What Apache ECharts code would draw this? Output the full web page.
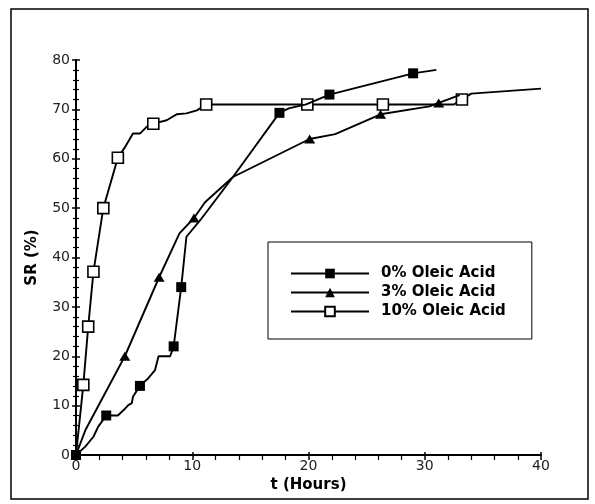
<!DOCTYPE html>
<html>
<head>
<meta charset="utf-8">
<script src="https://cdn.jsdelivr.net/npm/echarts@6/dist/echarts.min.js"></script>
<style>html,body{margin:0;padding:0;background:#fff}#c{width:595px;height:504px}</style>
</head>
<body>
<div id="c"></div>
<script>
// ---- data (t in hours, SR in %) ; mark = 1 where the figure shows a marker ----
const seriesNames = ['0% Oleic Acid', '3% Oleic Acid', '10% Oleic Acid'];

const t0   = [0, 0.8, 1.5, 1.9, 2.6, 3.6, 4.1, 4.5, 4.8, 4.9, 5.5, 6.2, 6.8, 7.1, 8.1, 8.4, 9.05, 9.5, 10.7, 13.5, 17.5, 18.3, 19.8, 21.8, 29, 31];
const sr0  = [0, 1.7, 3.7, 5.7, 8, 8, 9.1, 10.1, 10.5, 11.8, 14, 15.5, 17.2, 20, 20, 22, 34, 44.2, 47.6, 56.3, 69.3, 70.2, 71, 73, 77.3, 78];
const mk0  = [1, 0, 0, 0, 1, 0, 0, 0, 0, 0, 1, 0, 0, 0, 0, 1, 1, 0, 0, 0, 1, 0, 0, 1, 1, 0];

const t3   = [0, 0.8, 4.2, 7.15, 8.9, 10.15, 11.1, 13.5, 20.1, 22.3, 26.2, 30.4, 31.2, 33];
const sr3  = [0, 5, 20, 36, 44.9, 48, 51.2, 56.3, 64, 65, 69, 70.6, 71.3, 72.9];
const mk3  = [1, 0, 1, 1, 0, 1, 0, 0, 1, 0, 1, 0, 1, 0];

const t10  = [0, 0.63, 1.05, 1.5, 2.35, 3.6, 4.2, 4.9, 5.5, 6.1, 6.65, 7.8, 8.65, 9.5, 10.4, 11.2, 19.9, 26.4, 32.5, 33.2, 34, 40];
const sr10 = [0, 14.2, 26, 37.1, 50, 60.2, 62.3, 65.1, 65.1, 66.5, 67.1, 67.8, 69, 69.2, 69.8, 71, 71, 71, 71, 72, 73.2, 74.2];
const mk10 = [0, 1, 1, 1, 1, 1, 0, 0, 0, 0, 1, 0, 0, 0, 0, 1, 1, 1, 0, 1, 0, 0];

const xTicks = [0, 10, 20, 30, 40];
const yTicks = [0, 10, 20, 30, 40, 50, 60, 70, 80];

function build(t, v, m) {
  return t.map((x, i) => m[i] ? { value: [x, v[i]] } : { value: [x, v[i]], symbol: 'none' });
}

const FONT = 'DejaVu Sans';
const chart = echarts.init(document.getElementById('c'), null, { renderer: 'canvas' });

const baseX = {
  type: 'value', min: xTicks[0], max: xTicks[xTicks.length - 1], interval: 10,
  splitLine: { show: false }
};
const baseY = {
  type: 'value', min: yTicks[0], max: yTicks[yTicks.length - 1], interval: 10,
  splitLine: { show: false }
};

chart.setOption({
  animation: false,
  backgroundColor: '#fff',
  grid: { left: 76, right: 54, top: 60, bottom: 49, containLabel: false },
  xAxis: [
    Object.assign({}, baseX, {
      name: 't (Hours)', nameLocation: 'middle', nameGap: 21,
      nameTextStyle: { fontFamily: FONT, fontWeight: 'bold', fontSize: 15, color: '#000' },
      axisLine: { lineStyle: { color: '#000', width: 2 } },
      axisTick: { length: 5, lineStyle: { color: '#000', width: 1.5 } },
      minorTick: { show: true, splitNumber: 5, length: 5, lineStyle: { color: '#000', width: 1.2 } },
      axisLabel: { margin: 4, fontFamily: FONT, fontSize: 14, color: '#222' }
    }),
    Object.assign({}, baseX, {
      position: 'bottom', axisLine: { show: false }, axisLabel: { show: false },
      axisTick: { inside: true, length: 3, lineStyle: { color: '#000', width: 1.5 } }
    })
  ],
  yAxis: [
    Object.assign({}, baseY, {
      name: 'SR (%)', nameLocation: 'middle', nameGap: 36, nameRotate: 90,
      nameTextStyle: { fontFamily: FONT, fontWeight: 'bold', fontSize: 15, color: '#000' },
      axisLine: { lineStyle: { color: '#000', width: 2 } },
      axisTick: { length: 4, lineStyle: { color: '#000', width: 1.5 } },
      minorTick: { show: true, splitNumber: 5, length: 3, lineStyle: { color: '#000', width: 1.2 } },
      axisLabel: { margin: 6, fontFamily: FONT, fontSize: 14, color: '#222' }
    }),
    Object.assign({}, baseY, {
      position: 'left', axisLine: { show: false }, axisLabel: { show: false },
      axisTick: { inside: true, length: 4, lineStyle: { color: '#000', width: 1.5 } },
      minorTick: { show: true, splitNumber: 5, length: 3, lineStyle: { color: '#000', width: 1.2 } }
    })
  ],
  legend: {
    orient: 'vertical', left: 268, top: 242,
    padding: [24, 26, 20, 22],
    itemWidth: 78, itemHeight: 12, itemGap: 4,
    borderColor: '#000', borderWidth: 1, backgroundColor: '#fff',
    textStyle: { fontFamily: FONT, fontWeight: 'bold', fontSize: 15, color: '#000', padding: [0, 0, 0, 7] },
    data: seriesNames
  },
  graphic: [{
    type: 'rect', z: -1, silent: true,
    shape: { x: 11, y: 9, width: 577, height: 490 },
    style: { fill: 'none', stroke: '#000', lineWidth: 1.5 }
  }],
  series: [
    {
      name: seriesNames[2], type: 'line', data: build(t10, sr10, mk10), z: 2,
      symbol: 'rect', symbolSize: 11, showSymbol: true, showAllSymbol: true,
      lineStyle: { color: '#000', width: 1.9 },
      itemStyle: { color: '#fff', borderColor: '#000', borderWidth: 1.6 },
      emphasis: { disabled: true }
    },
    {
      name: seriesNames[1], type: 'line', data: build(t3, sr3, mk3), z: 3,
      symbol: 'triangle', symbolSize: [11, 9], showSymbol: true, showAllSymbol: true,
      lineStyle: { color: '#000', width: 1.9 },
      itemStyle: { color: '#000' },
      emphasis: { disabled: true }
    },
    {
      name: seriesNames[0], type: 'line', data: build(t0, sr0, mk0), z: 4,
      symbol: 'rect', symbolSize: 10, showSymbol: true, showAllSymbol: true,
      lineStyle: { color: '#000', width: 1.9 },
      itemStyle: { color: '#000' },
      emphasis: { disabled: true }
    }
  ]
});
</script>
</body>
</html>
